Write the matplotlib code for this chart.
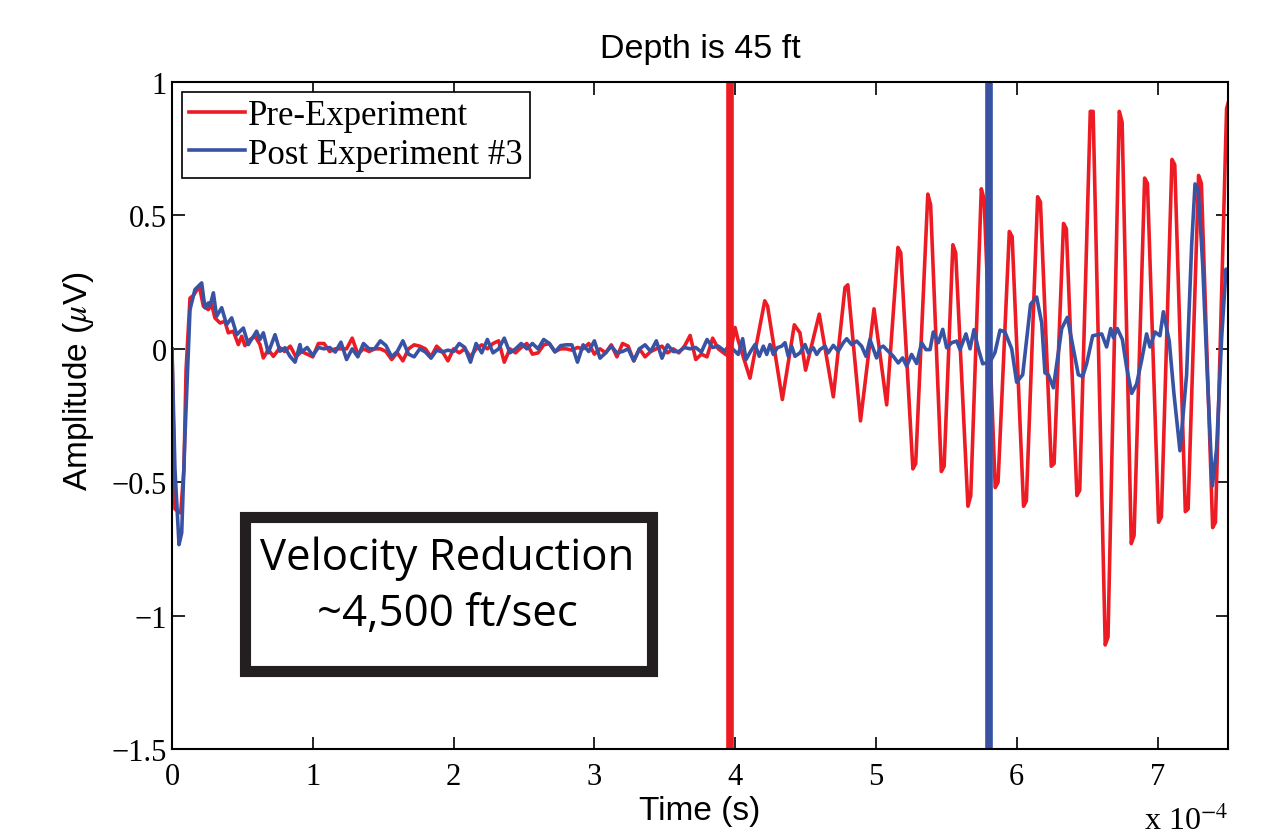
import matplotlib
matplotlib.use("Agg")
import matplotlib.pyplot as plt
from matplotlib.patches import Rectangle
import numpy as np

# ---- data (time in units of 1e-4 s, amplitude in microvolts) ----

# first arrival / early part
pre_early_t = [0.0, 0.021, 0.045, 0.062, 0.085, 0.10, 0.128, 0.152, 0.194, 0.223,
               0.258, 0.282, 0.305, 0.341, 0.376, 0.40, 0.436, 0.471, 0.495, 0.518,
               0.554, 0.59, 0.625, 0.649, 0.684, 0.72, 0.767]
pre_early_v = [0.0, -0.60, -0.61, -0.615, -0.45, -0.08, 0.19, 0.20, 0.235, 0.16,
               0.147, 0.166, 0.116, 0.097, 0.103, 0.06, 0.066, 0.016, 0.047, 0.012,
               0.035, 0.047, 0.016, -0.034, -0.003, -0.028, 0.004]

post_early_t = [0.0, 0.021, 0.05, 0.069, 0.092, 0.128, 0.163, 0.211, 0.234, 0.258,
                0.27, 0.294, 0.317, 0.353, 0.388, 0.424, 0.46, 0.507, 0.542, 0.601,
                0.625, 0.649, 0.684, 0.732, 0.767, 0.803, 0.838, 0.874, 0.909]
post_early_v = [0.0, -0.45, -0.734, -0.69, -0.33, 0.147, 0.222, 0.247, 0.154, 0.172,
                0.16, 0.21, 0.122, 0.154, 0.091, 0.116, 0.053, 0.078, 0.016, 0.066,
                0.035, 0.06, -0.015, 0.053, -0.009, 0.004, -0.028, -0.05, 0.016]

# noise before the arrivals (sampled every 0.04e-4 s)
pre_noise_start = 0.80
pre_noise_v = [-0.01, 0.01, -0.03, -0.01, -0.02, -0.03, 0.02, 0.02, -0.01, 0.0,
               0.0, 0.0, 0.04, -0.02, 0.0, -0.01, 0.0, 0.0, -0.01, -0.04,
               -0.015, -0.045, 0.0, 0.015, 0.01, 0.0, -0.03, 0.01, -0.01, -0.045,
               0.0, -0.015, 0.0, -0.03, 0.0, 0.015, 0.0, 0.02, 0.03, -0.05,
               0.0, -0.015, 0.005, 0.02, -0.02, -0.015, 0.015, 0.02, -0.01, 0.0,
               0.0, -0.005, 0.005, 0.0, 0.02, -0.02, 0.0, -0.015, 0.015, -0.03,
               0.02, 0.01, -0.045, 0.0, -0.03, -0.01, 0.0, 0.01, -0.015, 0.0,
               -0.015, 0.01, 0.05, -0.04, -0.02, -0.03, 0.04, 0.0]

post_noise_start = 0.92
post_noise_v = [-0.012, 0.005, -0.025, 0.005, 0.0, 0.005, -0.012, 0.025, -0.04, 0.0,
                -0.03, 0.02, 0.0, 0.0, 0.03, 0.012, -0.03, -0.01, 0.03, -0.02,
                -0.03, 0.0, -0.012, -0.035, -0.005, -0.012, -0.005, -0.01, 0.02, 0.005,
                -0.05, 0.02, -0.015, 0.035, -0.015, 0.0, 0.04, -0.015, 0.0, 0.02,
                0.0, 0.02, 0.0, 0.035, 0.02, -0.012, 0.012, 0.015, 0.015, -0.05,
                0.015, -0.01, 0.03, -0.035, -0.015, 0.01, -0.015, -0.01, 0.0, -0.045,
                0.0, 0.015, -0.01, 0.03, -0.035, 0.015, -0.01, -0.01, 0.005, 0.0,
                0.005, -0.012, 0.035, 0.005, 0.01]

# later part: the arriving waves
pre_wave_t = [3.93, 3.96, 3.999, 4.022, 4.105, 4.21, 4.23, 4.335, 4.42, 4.46,
              4.50, 4.597, 4.697, 4.78, 4.80, 4.89, 4.986, 5.076,
              5.156, 5.176, 5.262, 5.282, 5.368, 5.388, 5.464, 5.484, 5.546, 5.566,
              5.653, 5.673, 5.748, 5.768, 5.847, 5.867, 5.947, 5.967, 6.048, 6.068,
              6.148, 6.168, 6.245, 6.265, 6.332, 6.352, 6.427, 6.447, 6.522, 6.542,
              6.628, 6.648, 6.728, 6.748, 6.813, 6.833, 6.908, 6.928, 7.007, 7.027,
              7.102, 7.122, 7.197, 7.217, 7.291, 7.311, 7.391, 7.411, 7.49, 7.50]
pre_wave_v = [-0.02, -0.03, 0.08, 0.03, -0.11, 0.18, 0.16, -0.19, 0.09, 0.06,
              -0.08, 0.13, -0.18, 0.23, 0.24, -0.27, 0.15, -0.21,
              0.38, 0.36, -0.45, -0.43, 0.58, 0.54, -0.46, -0.44, 0.39, 0.36,
              -0.59, -0.55, 0.60, 0.56, -0.52, -0.50, 0.44, 0.42, -0.59, -0.57,
              0.57, 0.55, -0.44, -0.43, 0.47, 0.45, -0.55, -0.53, 0.89, 0.89,
              -1.11, -1.08, 0.89, 0.85, -0.73, -0.70, 0.64, 0.62, -0.65, -0.63,
              0.71, 0.69, -0.61, -0.60, 0.65, 0.62, -0.67, -0.65, 0.90, 0.92]

post_wave_t = [3.928, 3.951, 3.987, 4.022, 4.053, 4.077, 4.110, 4.141, 4.171, 4.200,
               4.224, 4.247, 4.271, 4.299, 4.330, 4.354, 4.377, 4.401, 4.425, 4.460,
               4.496, 4.519, 4.555, 4.579, 4.602, 4.638, 4.661, 4.697, 4.732, 4.768,
               4.792, 4.827, 4.863, 4.898, 4.929, 4.957, 4.981, 5.004, 5.028, 5.052,
               5.075, 5.099, 5.123, 5.158, 5.189, 5.218, 5.253, 5.289, 5.324, 5.355,
               5.384, 5.407, 5.443, 5.474, 5.502, 5.538, 5.573, 5.597, 5.639, 5.668,
               5.696, 5.727, 5.758, 5.810, 5.845, 5.881, 5.916, 5.964, 5.999, 6.042,
               6.098, 6.141, 6.177, 6.200, 6.224, 6.260, 6.319, 6.359, 6.402, 6.437,
               6.468, 6.496, 6.539, 6.603, 6.638, 6.667, 6.686, 6.714, 6.750, 6.780,
               6.816, 6.851, 6.887, 6.922, 6.946, 6.982, 7.017, 7.041, 7.083, 7.116,
               7.159, 7.206, 7.242, 7.266, 7.289, 7.320, 7.353, 7.389, 7.419, 7.455,
               7.486, 7.50]
post_wave_v = [-0.009, 0.01, -0.003, -0.021, 0.038, -0.04, -0.009, 0.016, -0.028, 0.01,
               -0.021, 0.016, -0.021, 0.004, 0.01, 0.023, -0.028, 0.01, -0.028, -0.015,
               0.016, -0.015, 0.004, -0.021, -0.003, 0.01, -0.015, 0.013, -0.009, 0.023,
               0.038, 0.016, 0.029, 0.01, -0.028, 0.035, 0.0, -0.034, 0.004, 0.01,
               -0.003, -0.015, -0.028, -0.053, -0.034, -0.065, -0.021, -0.055, 0.023, -0.003,
               -0.003, 0.063, 0.023, 0.073, 0.004, 0.023, 0.029, -0.003, 0.056, 0.0,
               0.072, 0.0, -0.056, -0.049, -0.014, 0.07, 0.063, 0.0, -0.125, -0.097,
               0.167, 0.194, 0.097, -0.09, -0.097, -0.146, 0.076, 0.118, 0.0, -0.097,
               -0.104, -0.056, 0.049, 0.056, 0.007, 0.076, 0.042, 0.076, 0.035, -0.069,
               -0.167, -0.132, -0.042, 0.056, 0.007, 0.063, 0.049, 0.139, 0.028, -0.167,
               -0.382, -0.097, 0.389, 0.618, 0.597, 0.319, -0.097, -0.514, -0.375, 0.042,
               0.299, 0.26]

# picked arrival times
pre_pick = 3.96
post_pick = 5.80

xticks = [0, 1, 2, 3, 4, 5, 6, 7]
yticks = [-1.5, -1, -0.5, 0, 0.5, 1]
ytick_labels = ["\u22121.5", "\u22121", "\u22120.5", "0", "0.5", "1"]

# ---- assemble series ----
pre_noise_t = pre_noise_start + 0.04 * np.arange(len(pre_noise_v))
post_noise_t = post_noise_start + 0.04 * np.arange(len(post_noise_v))

pre_t = np.concatenate([pre_early_t, pre_noise_t, pre_wave_t])
pre_v = np.concatenate([pre_early_v, pre_noise_v, pre_wave_v])
post_t = np.concatenate([post_early_t, post_noise_t, post_wave_t])
post_v = np.concatenate([post_early_v, post_noise_v, post_wave_v])

RED = "#ED1C24"
BLUE = "#3953A4"

plt.rcParams["mathtext.fontset"] = "stix"

fig = plt.figure(figsize=(12.72, 8.37), dpi=100)
ax = fig.add_axes([0.1352, 0.1039, 0.8302, 0.7969])

ax.plot(pre_t, pre_v, color=RED, lw=2.6, label="Pre-Experiment")
ax.plot(post_t, post_v, color=BLUE, lw=2.6, label="Post Experiment #3")

ax.axvline(pre_pick, color=RED, lw=5.5)
ax.axvline(post_pick, color=BLUE, lw=5.5)

ax.set_xlim(0, 7.5)
ax.set_ylim(-1.5, 1)
ax.set_xticks(xticks)
ax.set_xticklabels([str(x) for x in xticks])
ax.set_yticks(yticks)
ax.set_yticklabels(ytick_labels)

for lab in ax.get_xticklabels() + ax.get_yticklabels():
    lab.set_family("Liberation Serif")
    lab.set_fontsize(22)

ax.tick_params(axis="x", pad=9)
ax.tick_params(direction="in", length=9, width=1.2, top=True, right=True)
for sp in ax.spines.values():
    sp.set_linewidth(1.5)

ax.set_title("Depth is 45 ft", fontsize=24.5, family="Liberation Sans", pad=18)
ax.set_xlabel("Time (s)", fontsize=24, family="Liberation Sans", labelpad=3)
ax.set_ylabel("Amplitude ($\\mu$V)", fontsize=24, family="Liberation Sans")
ax.yaxis.set_label_coords(-0.072, 0.553)

leg = ax.legend(loc="upper left", prop={"family": "Liberation Serif", "size": 25},
                handlelength=1.6, handletextpad=0.1, borderpad=0.2,
                labelspacing=0.15, borderaxespad=0.3, fancybox=False,
                framealpha=1)
leg.get_frame().set_edgecolor("black")
leg.get_frame().set_linewidth(1.2)

# annotation box with thick frame
ax.add_patch(Rectangle((0.0696, 0.1177), 0.3845, 0.2309, transform=ax.transAxes,
                       fc="white", ec="#231F20", lw=8, zorder=4))
ax.text(0.261, 0.245, "Velocity Reduction\n~4,500 ft/sec", transform=ax.transAxes,
        ha="center", va="center", fontsize=31.5, family="Open Sans",
        linespacing=1.36, zorder=5)

fig.text(0.966, 0.0, "x 10$^{-4}$", ha="right", va="bottom",
         fontsize=23, family="Liberation Serif")

fig.savefig("out.png", dpi=100)
plt.close(fig)
